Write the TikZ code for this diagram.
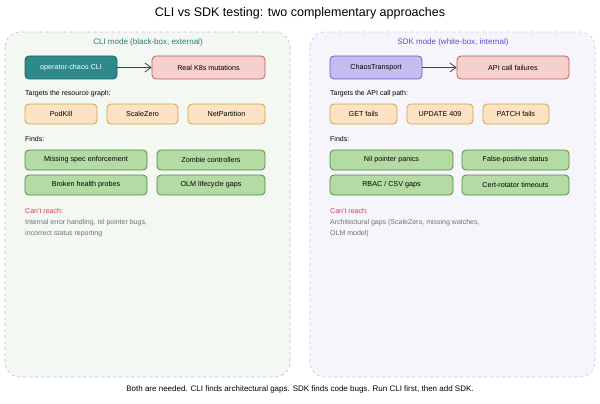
\documentclass[tikz,border=0pt]{standalone}
\usepackage{fontspec}
\setmainfont{Liberation Sans}
\usepackage{xcolor}
\usetikzlibrary{arrows.meta}

\definecolor{cligreen}{HTML}{F3F9F2}
\definecolor{sdkpurple}{HTML}{F7F5FC}
\definecolor{teal}{HTML}{2E8A8A}
\definecolor{tealtext}{HTML}{2A7A70}
\definecolor{purpletext}{HTML}{6A48C8}
\definecolor{redfill}{HTML}{F6CFCF}
\definecolor{redline}{HTML}{C05A5A}
\definecolor{orangefill}{HTML}{FDE3C4}
\definecolor{orangeline}{HTML}{D4A43A}
\definecolor{greenfill}{HTML}{B5DBA5}
\definecolor{greenline}{HTML}{4F8A3F}
\definecolor{violetfill}{HTML}{C4BDF0}
\definecolor{violetline}{HTML}{6A5ACD}
\definecolor{reachred}{HTML}{D03A4A}
\definecolor{greytext}{HTML}{707070}

\begin{document}
\begin{tikzpicture}[x=1pt,y=-1pt,
    box/.style={rounded corners=4pt,line width=0.8pt,minimum height=20pt,inner sep=0pt,font=\fontsize{7.2}{8}\selectfont},
    toolbox/.style={box,minimum height=23pt},
    target/.style={box,fill=orangefill,draw=orangeline},
    finding/.style={box,fill=greenfill,draw=greenline},
    effect/.style={toolbox,fill=redfill,draw=redline},
    label/.style={anchor=west,inner sep=0pt,font=\fontsize{7}{8}\selectfont},
    panel/.style={dashed,rounded corners=15pt,line width=0.6pt},
    flow/.style={-{Straight Barb[length=6pt,width=9pt]},line width=0.8pt,draw=black!75}]
  \useasboundingbox[fill=white] (0,0) rectangle (600,404);

  \node[font=\fontsize{12.5}{14}\selectfont] (title) at (300,13) {CLI vs SDK testing: two complementary approaches};

  % panels
  \draw[panel,fill=cligreen,draw=black!25] (5,32) rectangle (290,377);
  \draw[panel,fill=sdkpurple,draw=violetline!35] (310,32) rectangle (595,377);
  \node[font=\fontsize{8}{9}\selectfont,text=tealtext] (clihead) at (148,42) {CLI mode (black-box, external)};
  \node[font=\fontsize{8}{9}\selectfont,text=purpletext] (sdkhead) at (453,42) {SDK mode (white-box, internal)};

  % CLI side
  \node[toolbox,fill=teal,draw=teal!70!black,text=white,minimum width=92pt] (cli) at (71,67.5) {operator-chaos CLI};
  \node[effect,minimum width=113pt] (mutations) at (208.5,67.5) {Real K8s mutations};
  \draw[flow] (cli) -- (mutations);
  \node[label] (clitargets) at (25,94) {Targets the resource graph:};
  \node[target,minimum width=72pt] (podkill) at (61,114) {PodKill};
  \node[target,minimum width=71pt] (scalezero) at (142.5,114) {ScaleZero};
  \node[target,minimum width=77pt] (netpart) at (226.5,114) {NetPartition};
  \node[label] (clifinds) at (25,139) {Finds:};
  \node[finding,minimum width=122pt] (missing) at (86,160) {Missing spec enforcement};
  \node[finding,minimum width=108pt] (zombie) at (211,160) {Zombie controllers};
  \node[finding,minimum width=122pt] (probes) at (86,185) {Broken health probes};
  \node[finding,minimum width=108pt] (olm) at (211,185) {OLM lifecycle gaps};
  \node[label,text=reachred] (clicant) at (25,211) {Can't reach:};
  \node[label,text=greytext,align=left,anchor=north west,font=\fontsize{7}{10.5}\selectfont] (cligap) at (25,219.5)
    {Internal error handling, nil pointer bugs,\\incorrect status reporting};

  % SDK side
  \node[toolbox,fill=violetfill,draw=violetline,minimum width=92pt] (transport) at (376,67.5) {ChaosTransport};
  \node[effect,minimum width=112pt] (apifail) at (513,67.5) {API call failures};
  \draw[flow] (transport) -- (apifail);
  \node[label] (sdktargets) at (330,94) {Targets the API call path:};
  \node[target,minimum width=67pt] (getfail) at (363.5,114) {GET fails};
  \node[target,minimum width=66pt] (update) at (440,114) {UPDATE 409};
  \node[target,minimum width=66pt] (patch) at (516,114) {PATCH fails};
  \node[label] (sdkfinds) at (330,139) {Finds:};
  \node[finding,minimum width=123pt] (nilptr) at (391.5,160) {Nil pointer panics};
  \node[finding,minimum width=107pt] (falsepos) at (515.5,160) {False-positive status};
  \node[finding,minimum width=123pt] (rbac) at (391.5,185) {RBAC / CSV gaps};
  \node[finding,minimum width=107pt] (certrot) at (515.5,185) {Cert-rotator timeouts};
  \node[label,text=reachred] (sdkcant) at (330,211) {Can't reach:};
  \node[label,text=greytext,align=left,anchor=north west,font=\fontsize{7}{10.5}\selectfont] (sdkgap) at (330,219.5)
    {Architectural gaps (ScaleZero, missing watches,\\OLM model)};

  \node[font=\fontsize{8}{9}\selectfont] (footer) at (300,389) {Both are needed. CLI finds architectural gaps. SDK finds code bugs. Run CLI first, then add SDK.};
\end{tikzpicture}
\end{document}
